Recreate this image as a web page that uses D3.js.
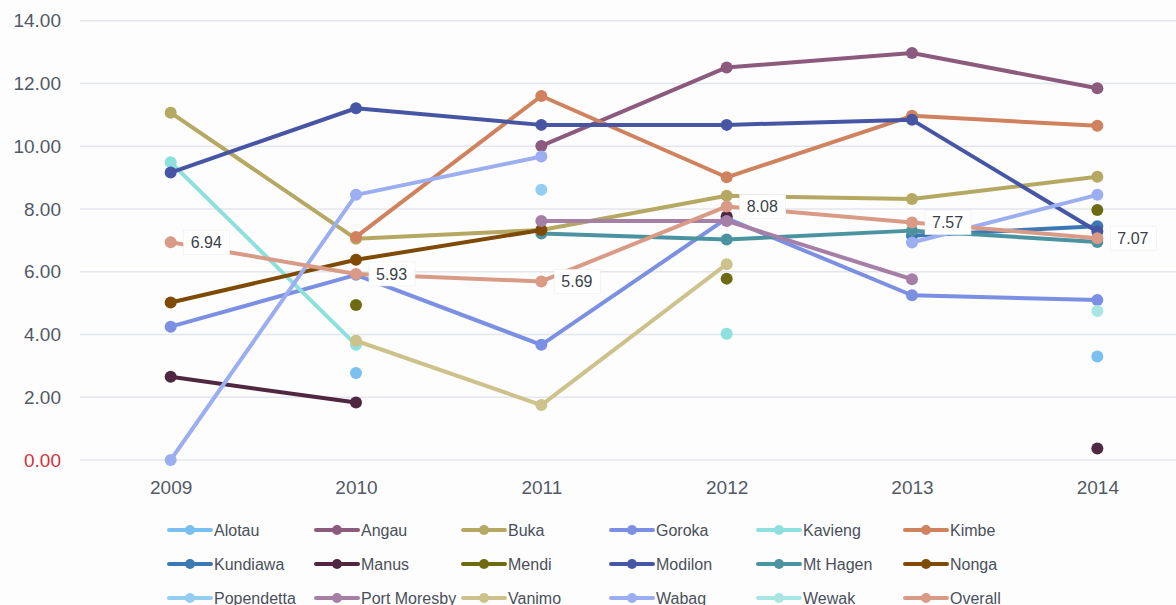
<!DOCTYPE html>
<html><head><meta charset="utf-8">
<script src="https://cdn.jsdelivr.net/npm/d3@7"></script>
<style>
html,body{margin:0;padding:0;background:#fdfdfd;}
svg{display:block;font-family:"Liberation Sans",Arial,sans-serif;}
</style></head>
<body><svg id="chart" width="1176" height="605"></svg>
<script>
const years = [2009, 2010, 2011, 2012, 2013, 2014];
const yTicks = [0, 2, 4, 6, 8, 10, 12, 14];

const alotau      = [null, 2.77, null, null, null, 3.30];
const angau       = [null, null, 10.01, 12.51, 12.97, 11.85];
const buka        = [11.07, 7.05, 7.33, 8.42, 8.32, 9.03];
const goroka      = [4.25, 5.90, 3.67, 7.70, 5.25, 5.10];
const kavieng     = [9.49, 3.67, null, 4.02, null, null];
const kimbe       = [null, 7.11, 11.60, 9.01, 10.97, 10.65];
const kundiawa    = [null, null, null, null, 7.15, 7.45];
const manus       = [2.65, 1.83, null, 7.76, null, 0.37];
const mendi       = [null, 4.94, null, 5.78, null, 7.97];
const modilon     = [9.16, 11.21, 10.68, 10.68, 10.84, 7.28];
const mtHagen     = [null, null, 7.22, 7.03, 7.31, 6.95];
const nonga       = [5.02, 6.38, 7.33, null, null, null];
const popendetta  = [null, null, 8.61, null, null, null];
const portMoresby = [null, null, 7.62, 7.62, 5.76, null];
const vanimo      = [null, 3.80, 1.75, 6.24, null, null];
const wabag       = [0.00, 8.45, 9.67, null, 6.93, 8.45];
const wewak       = [null, null, null, null, null, 4.75];
const overall     = [6.94, 5.93, 5.69, 8.08, 7.57, 7.07];

const seriesNames = ["Alotau","Angau","Buka","Goroka","Kavieng","Kimbe","Kundiawa","Manus","Mendi","Modilon","Mt Hagen","Nonga","Popendetta","Port Moresby","Vanimo","Wabag","Wewak","Overall"];
const seriesValues = [alotau,angau,buka,goroka,kavieng,kimbe,kundiawa,manus,mendi,modilon,mtHagen,nonga,popendetta,portMoresby,vanimo,wabag,wewak,overall];
const seriesColors = ["#79bff0","#8c5a7c","#b5a862","#7b8fe3","#8de0dd","#d0825f","#3b78b4","#4f2740","#6e6a12","#4756a4","#4b93a0","#7e4a05","#94cdf2","#a57fa6","#cdc28b","#9aaef0","#a8e6e3","#d99a86"];

const series = seriesNames.map((n,i)=>({name:n, values:seriesValues[i], color:seriesColors[i]}));

const svg = d3.select("#chart");
const W = 1176, H = 605;
svg.append("rect").attr("width",W).attr("height",H).attr("fill","#fdfdfd");

const x = d3.scalePoint().domain(years).range([78, 1190]).padding(0.5);
const y = d3.scaleLinear().domain([0,14]).range([460, 20.7]);

// grid
const grid = svg.append("g");
grid.selectAll("line").data(yTicks).join("line")
  .attr("x1",80).attr("x2",W).attr("y1",d=>y(d)).attr("y2",d=>y(d))
  .attr("stroke","#e3e6ee").attr("stroke-width",1.5);

// y axis
const yAxis = svg.append("g").attr("transform","translate(61,0)")
  .call(d3.axisLeft(y).tickValues(yTicks).tickFormat(d3.format(".2f")).tickSize(0).tickPadding(0));
yAxis.select(".domain").remove();
yAxis.selectAll("text").attr("font-size",19).attr("fill",d=>d===0?"#d0343a":"#525a66")
  .attr("font-family","Liberation Sans, Arial, sans-serif");

// x axis
const xAxis = svg.append("g").attr("transform","translate(0,480)")
  .call(d3.axisBottom(x).tickFormat(d=>String(d)).tickSize(0).tickPadding(0));
xAxis.select(".domain").remove();
xAxis.selectAll("text").attr("font-size",19).attr("fill","#525a66").attr("dy","0.71em")
  .attr("font-family","Liberation Sans, Arial, sans-serif");

// lines
const line = d3.line().defined(d=>d.v!=null).x(d=>x(d.year)).y(d=>y(d.v));
const plot = svg.append("g");
series.forEach(s=>{
  const pts = years.map((yr,i)=>({year:yr, v:s.values[i]}));
  const g = plot.append("g");
  g.append("path").datum(pts).attr("d",line).attr("fill","none")
    .attr("stroke",s.color).attr("stroke-width",4).attr("stroke-linejoin","round").attr("stroke-linecap","round");
  g.selectAll("circle").data(pts.filter(d=>d.v!=null)).join("circle")
    .attr("cx",d=>x(d.year)).attr("cy",d=>y(d.v)).attr("r",6).attr("fill",s.color);
});

// overall labels
const lab = svg.append("g");
years.forEach((yr,i)=>{
  const v = overall[i];
  const cx = x(yr), cy = y(v);
  lab.append("rect").attr("x",cx+13).attr("y",cy-12).attr("width",46).attr("height",24)
    .attr("fill","#ffffff").attr("stroke","#eeeeee").attr("stroke-width",0.6);
  lab.append("text").attr("x",cx+20).attr("y",cy).attr("dy","0.36em")
    .attr("font-size",16).attr("fill","#3a3f48").text(d3.format(".2f")(v));
});

// legend
const legend = svg.append("g");
const colX = [169, 316, 463, 611, 758, 905];
const rowY = [530, 564, 598];
series.forEach((s,i)=>{
  const c = i%6, r = Math.floor(i/6);
  const g = legend.append("g").attr("transform",`translate(${colX[c]},${rowY[r]})`);
  g.append("line").attr("x1",0).attr("x2",42).attr("y1",0).attr("y2",0)
    .attr("stroke",s.color).attr("stroke-width",4).attr("stroke-linecap","round");
  g.append("circle").attr("cx",21).attr("cy",0).attr("r",5).attr("fill",s.color);
  g.append("text").attr("x",45).attr("y",0).attr("dy","0.36em").attr("font-size",16)
    .attr("fill","#4a505a").text(s.name);
});
</script></body></html>
